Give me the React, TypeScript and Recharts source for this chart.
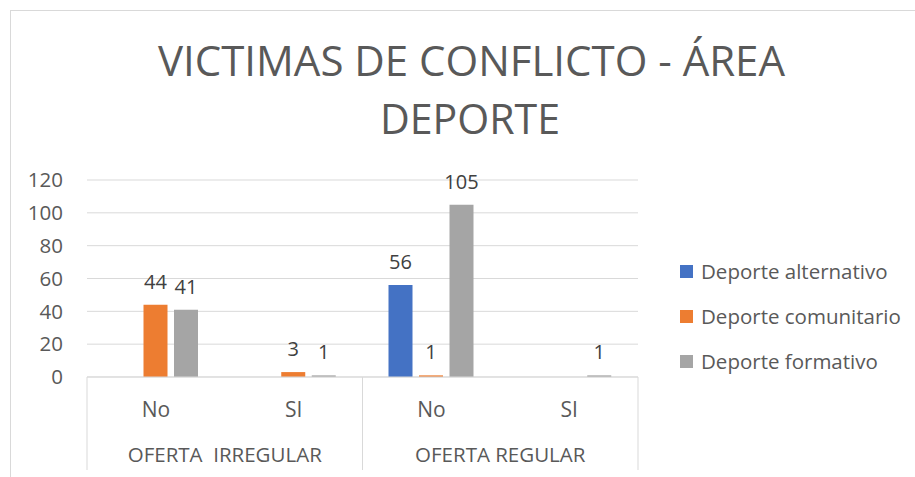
import React from "react";
import { BarChart, Bar, XAxis, YAxis, CartesianGrid, LabelList } from "recharts";

const subCategories = ["No", "SI", "No", "SI"];
const groups = ["OFERTA\u00A0 IRREGULAR", "OFERTA REGULAR"];
const alternativo: (number | null)[] = [null, null, 56, null];
const comunitario: (number | null)[] = [44, 3, 1, null];
const formativo: (number | null)[] = [41, 1, 105, 1];
const yTicks = [0, 20, 40, 60, 80, 100, 120];
const seriesNames = ["Deporte alternativo", "Deporte comunitario", "Deporte formativo"];
const colors = ["#4472C4", "#ED7D31", "#A5A5A5"];

const data = subCategories.map((s, i) => ({
  sub: s,
  group: groups[Math.floor(i / 2)],
  alt: alternativo[i],
  com: comunitario[i],
  form: formativo[i],
}));

const W = 915;
const H = 477;
const M = { top: 180, right: 277, bottom: 0, left: 27 };
const YW = 60;
const XH = 100;
const plotLeft = M.left + YW;
const plotW = W - M.right - plotLeft;
const band = plotW / subCategories.length;
const FONT = "'Open Sans', sans-serif";
const TXT = "#595959";

const XTick = (props: any) => {
  const { x, index, payload } = props;
  const y0 = 377;
  const els: React.ReactNode[] = [];
  els.push(
    <text key="t" x={x} y={y0 + 40} textAnchor="middle" fontSize={21} fill={TXT} fontFamily={FONT}>
      {payload.value}
    </text>
  );
  if (index % 2 === 0) {
    els.push(
      <text key="g" x={x + band / 2} y={y0 + 85} textAnchor="middle" fontSize={20.5} fill={TXT} fontFamily={FONT} style={{ whiteSpace: "pre" }}>
        {data[index].group}
      </text>
    );
    els.push(<line key="l" x1={x - band / 2} x2={x - band / 2} y1={y0} y2={y0 + 93} stroke="#D9D9D9" strokeWidth={1} />);
  }
  if (index === subCategories.length - 1) {
    els.push(<line key="r" x1={x + band / 2} x2={x + band / 2} y1={y0} y2={y0 + 93} stroke="#D9D9D9" strokeWidth={1} />);
  }
  return <g>{els}</g>;
};

const labelStyle = { fontSize: 20, fill: "#404040", fontFamily: FONT };

export default function App() {
  return (
    <div style={{ position: "fixed", left: 0, top: 0, width: W, height: H, overflow: "hidden", background: "#fff" }}>
      <div style={{ position: "absolute", left: 10, top: 10, width: 1000, height: 1000, border: "1px solid #D9D9D9" }} />
      <svg width={W} height={H} style={{ position: "absolute", left: 0, top: 0 }}>
        <text x={471.5} y={76} textAnchor="middle" fontSize={42} fill={TXT} fontFamily={FONT} textLength={627} lengthAdjust="spacingAndGlyphs">
          VICTIMAS DE CONFLICTO - ÁREA
        </text>
        <text x={470} y={134} textAnchor="middle" fontSize={42} fill={TXT} fontFamily={FONT} textLength={180} lengthAdjust="spacingAndGlyphs">
          DEPORTE
        </text>
        {seriesNames.map((n, i) => (
          <g key={n}>
            <rect x={680} y={265 + i * 45} width={13} height={13} fill={colors[i]} />
            <text x={701} y={279 + i * 45} fontSize={20.5} fill={TXT} fontFamily={FONT}>
              {n}
            </text>
          </g>
        ))}
      </svg>
      <div style={{ position: "absolute", left: 0, top: 0 }}>
        <BarChart width={W} height={H} data={data} margin={M} barGap={6.5}>
          <CartesianGrid vertical={false} stroke="#D9D9D9" />
          <XAxis dataKey="sub" axisLine={{ stroke: "#D9D9D9" }} tickLine={false} tick={<XTick />} interval={0} height={XH} />
          <YAxis
            width={YW}
            domain={[0, 120]}
            ticks={yTicks}
            interval={0}
            axisLine={false}
            tickLine={false}
            tickSize={0}
            tickMargin={24}
            tick={{ fontSize: 20.5, fill: TXT, fontFamily: FONT }}
          />
          <Bar dataKey="alt" fill={colors[0]} barSize={24} isAnimationActive={false}>
            <LabelList dataKey="alt" position="top" offset={16} style={labelStyle} />
          </Bar>
          <Bar dataKey="com" fill={colors[1]} barSize={24} isAnimationActive={false}>
            <LabelList dataKey="com" position="top" offset={16} style={labelStyle} />
          </Bar>
          <Bar dataKey="form" fill={colors[2]} barSize={24} isAnimationActive={false}>
            <LabelList dataKey="form" position="top" offset={16} style={labelStyle} />
          </Bar>
        </BarChart>
      </div>
    </div>
  );
}
